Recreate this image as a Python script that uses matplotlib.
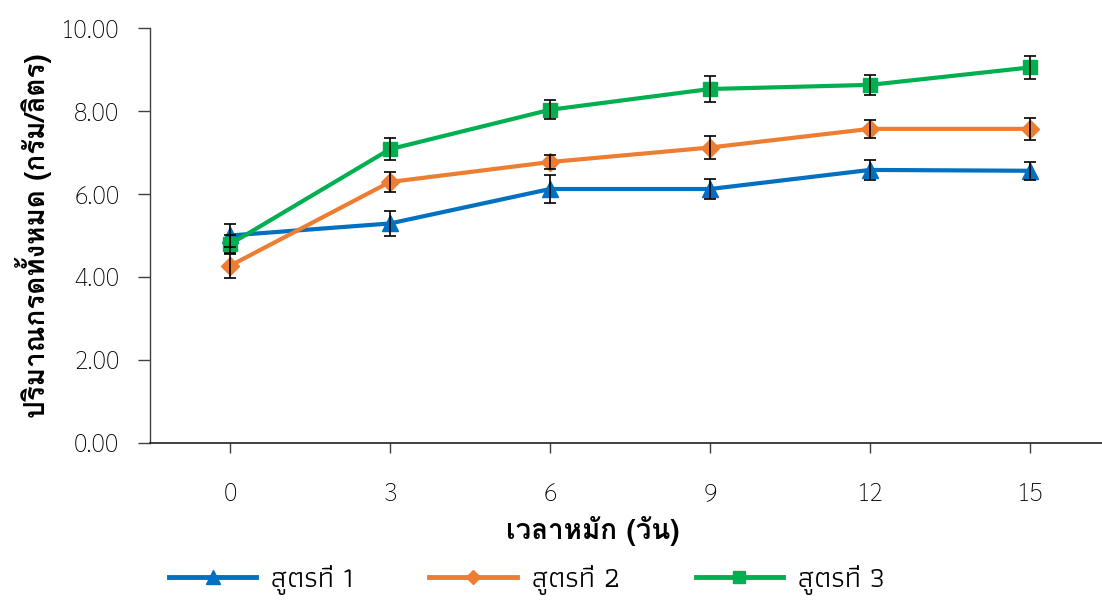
import matplotlib
matplotlib.use("Agg")
import matplotlib.pyplot as plt

# days of fermentation
days = [0, 3, 6, 9, 12, 15]

# total acid (g/L) for the three recipes, with their error bars
f1 = [5.00, 5.29, 6.12, 6.12, 6.58, 6.56]
f1_err = [0.27, 0.30, 0.33, 0.24, 0.25, 0.22]
f2 = [4.27, 6.29, 6.77, 7.12, 7.57, 7.57]
f2_err = [0.29, 0.25, 0.16, 0.27, 0.22, 0.26]
f3 = [4.79, 7.08, 8.03, 8.53, 8.63, 9.05]
f3_err = [0.22, 0.27, 0.23, 0.31, 0.24, 0.27]

names = ["สูตรที่ 1", "สูตรที่ 2", "สูตรที่ 3"]
colors = ["#0070C0", "#ED7D31", "#00B050"]
markers = ["^", "D", "s"]
msizes = [12, 9, 10.5]

yticks = [0, 2, 4, 6, 8, 10]

num_font = ["Sarabun", "DejaVu Sans"]
leg_font = ["Athiti", "Sarabun", "DejaVu Sans"]
lab_font = ["Loma", "Noto Sans Thai Looped", "DejaVu Sans"]

fig = plt.figure(figsize=(11.02, 6.04), dpi=100)
ax = fig.add_axes([0.1361, 0.2666, 0.8639, 0.687])

series = [(f1, f1_err), (f2, f2_err), (f3, f3_err)]
handles = []
for (vals, errs), name, c, m, ms in zip(series, names, colors, markers, msizes):
    h, = ax.plot(days, vals, color=c, lw=3, marker=m, ms=ms, mec=c, label=name, zorder=3)
    ax.errorbar(days, vals, yerr=errs, fmt="none", ecolor="black", elinewidth=1.2,
                capsize=4.5, capthick=1.2, zorder=4)
    handles.append(h)

ax.set_xlim(-1.5, 16.35)
ax.set_ylim(0, 10)
ax.set_xticks(days)
ax.set_xticklabels([str(d) for d in days], family=num_font, fontsize=18, fontweight="light")
ax.set_yticks(yticks)
ax.set_yticklabels([f"{v:.2f}" for v in yticks], family=num_font, fontsize=18,
                   fontweight="light")
ax.tick_params(axis="y", direction="out", length=9, width=1, color="#404040", pad=13)
ax.tick_params(axis="x", direction="out", length=7, width=1, color="#404040", pad=21)

for s in ["top", "right"]:
    ax.spines[s].set_visible(False)
ax.spines["left"].set_color("#404040")
ax.spines["bottom"].set_color("#202020")
ax.spines["left"].set_linewidth(1)
ax.spines["bottom"].set_linewidth(1.2)

ax.set_ylabel("ปริมาณกรดทั้งหมด (กรัม/ลิตร)", family=lab_font, fontsize=20,
              fontweight="bold")
ax.set_xlabel("เวลาหมัก (วัน)", family=lab_font, fontsize=20, fontweight="bold")
ax.yaxis.set_label_coords(-0.103, 0.5)
ax.xaxis.set_label_coords(0.465, -0.175)

leg = fig.legend(handles=handles, labels=names, loc="center", bbox_to_anchor=(0.478, 0.04),
                 ncol=3, frameon=False, handlelength=3.0, handletextpad=0.5,
                 columnspacing=2.6, markerscale=0.8,
                 prop={"family": leg_font, "size": 21})
for line in leg.get_lines():
    line.set_linewidth(3.5)

fig.savefig("out.png")
